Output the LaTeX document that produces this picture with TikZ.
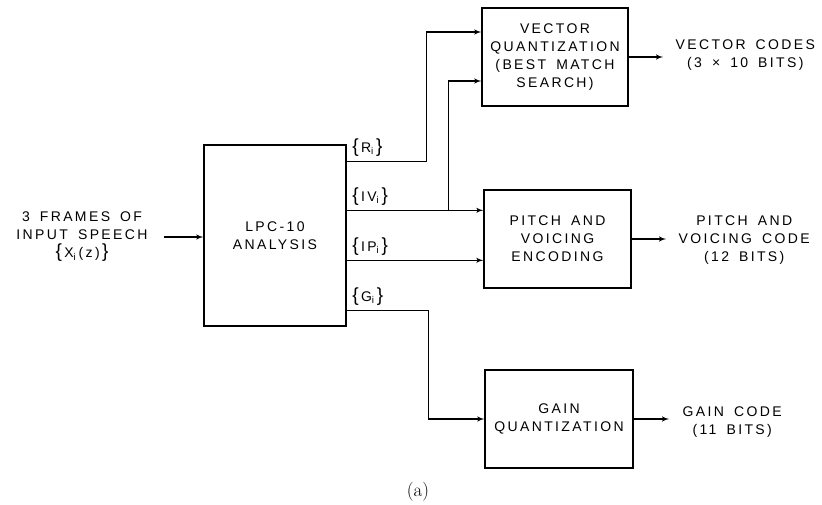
\documentclass[tikz,border=0pt]{standalone}
\usepackage{fontspec}
\newfontfamily\stencil[LetterSpace=17,WordSpace=1.6]{Liberation Sans}
\usetikzlibrary{arrows,positioning}

% tall braces round a set of parameters
\newcommand{\braced}[1]{{\fontsize{19}{19}\selectfont\{}\,#1\,{\fontsize{19}{19}\selectfont\}}}

\begin{document}
\begin{tikzpicture}[x=1pt,y=-1pt,>=latex',line width=1.4pt,
    node font=\stencil\fontsize{14}{18}\selectfont,
    blk/.style={draw,rectangle,align=center,inner sep=0pt,minimum height=98pt},
    txt/.style={align=center,inner sep=0pt},
    sig/.style={->}]
    \useasboundingbox (0,0) rectangle (822,505);
    %
    % the four blocks
    \node[blk,minimum width=142pt,minimum height=181pt] (lpc) at (275,235.5) {LPC-10\\ANALYSIS};
    \node[blk,minimum width=146pt] (vq) at (555,57) {VECTOR\\QUANTIZATION\\(BEST MATCH\\SEARCH)};
    \node[blk,minimum width=147pt] (pv) at (557.5,239) {PITCH AND\\VOICING\\ENCODING};
    \node[blk,minimum width=148pt] (gq) at (559,419) {GAIN\\QUANTIZATION};
    %
    % input and outputs
    \node[txt] (in) at (82,237) {3 FRAMES OF\\INPUT SPEECH\\\braced{X\textsubscript{i}\,(z)}};
    \node[txt,anchor=west] (vc) at (675,55) {VECTOR CODES\\(3 × 10 BITS)};
    \node[txt,anchor=west] (pvc) at (678,240) {PITCH AND\\VOICING CODE\\(12 BITS)};
    \node[txt,anchor=west] (gc) at (682,422) {GAIN CODE\\(11 BITS)};
    %
    % taps on the analysis block
    \coordinate (r) at ([yshift=-17pt]lpc.north east);
    \coordinate (iv) at ([yshift=-66pt]lpc.north east);
    \coordinate (ip) at ([yshift=-116pt]lpc.north east);
    \coordinate (g) at ([yshift=-166pt]lpc.north east);
    \node[txt,above right=4pt and 5pt of r] (rl) {\braced{R\textsubscript{i}}};
    \node[txt,above right=4pt and 5pt of iv] (ivl) {\braced{IV\textsubscript{i}}};
    \node[txt,above right=4pt and 5pt of ip] (ipl) {\braced{IP\textsubscript{i}}};
    \node[txt,above right=4pt and 5pt of g] (gl) {\braced{G\textsubscript{i}}};
    %
    \draw[sig,shorten <=16pt] (in.east) -- (in.east -| lpc.west);
    \draw[sig] (r) -| ([xshift=-55pt,yshift=25pt]vq.west) -- ([yshift=25pt]vq.west);
    \draw[sig] (iv) -- (iv -| pv.west);
    \draw[sig] ([xshift=102pt]iv) |- ([yshift=-24pt]vq.west);
    \draw[sig] (ip) -- (ip -| pv.west);
    \draw[sig] (g) -| ([xshift=-56pt]gq.west) -- (gq.west);
    %
    \draw[sig,shorten >=12pt] (vq.east) -- (vq.east -| vc.west);
    \draw[sig,shorten >=12pt] (pv.east) -- (pv.east -| pvc.west);
    \draw[sig,shorten >=13pt] (gq.east) -- (gq.east -| gc.west);
    %
    \node[font=\rmfamily\fontsize{19}{21}\selectfont] (cap) at (418,492) {(a)};
\end{tikzpicture}
\end{document}
